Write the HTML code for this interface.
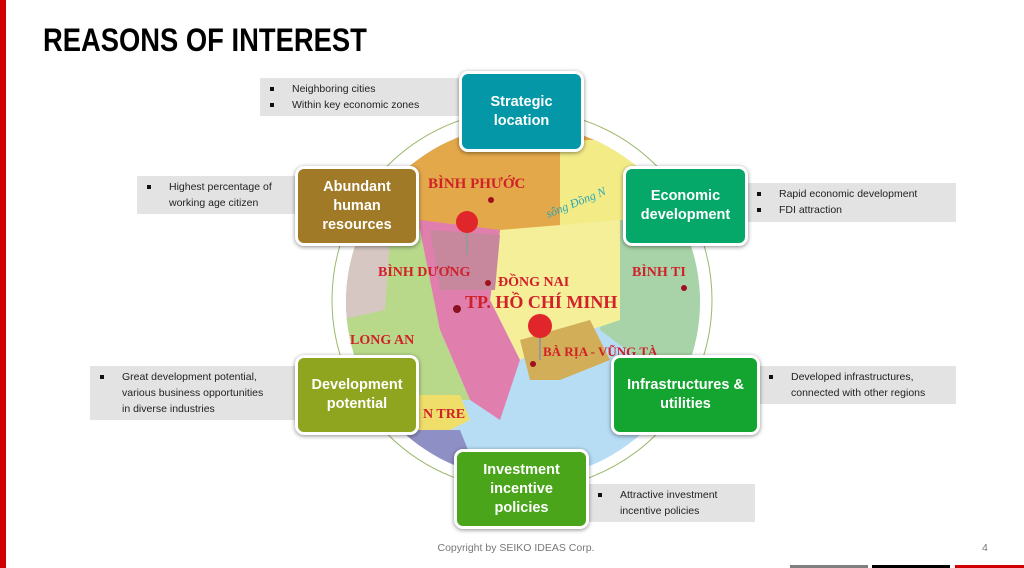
<!DOCTYPE html>
<html><head><meta charset="utf-8"><style>
body{margin:0;width:1024px;height:568px;position:relative;overflow:hidden;background:#fff;font-family:"Liberation Sans",sans-serif}
.a{position:absolute}
.title{left:43px;top:22px;font-size:32px;font-weight:bold;color:#000;transform:scaleX(0.855);transform-origin:left top;white-space:nowrap}
.box{position:absolute;border:3px solid #fff;border-radius:9px;box-shadow:0 1px 4px rgba(0,0,0,.45);color:#fff;font-weight:bold;font-size:14.5px;line-height:19px;display:flex;align-items:center;justify-content:center;text-align:center;box-sizing:border-box}
.call{position:absolute;background:#e3e3e3;font-size:10.5px;color:#222;line-height:16px;box-sizing:border-box;padding:3px 0}
.call div{position:relative;padding-left:32px}
.call div.b:before{content:"";position:absolute;left:10px;top:6px;width:4px;height:4px;background:#111}
</style></head><body>
<div class="a" style="left:0;top:0;width:6px;height:568px;background:#d00000"></div>
<div class="a title">REASONS OF INTEREST</div>

<svg class="a" style="left:0;top:0" width="1024" height="568">
<defs><clipPath id="c"><circle cx="523" cy="302" r="177"/></clipPath></defs>
<circle cx="522" cy="300" r="190" fill="none" stroke="#9ab86a" stroke-width="1"/>
<g clip-path="url(#c)">
<rect x="340" y="120" width="370" height="370" fill="#b7ddf5"/>
<polygon points="340,120 600,120 610,200 560,230 500,250 460,240 420,230 340,230" fill="#e3a84a"/>
<polygon points="560,140 710,140 710,260 620,250 560,230" fill="#f3ec86"/>
<polygon points="620,220 710,220 710,380 640,360 600,330" fill="#a8d3a8"/>
<polygon points="500,230 620,220 620,320 560,340 520,360 490,300" fill="#f6ef9a"/>
<polygon points="420,220 500,230 490,300 520,360 500,420 470,400 440,330 420,290" fill="#e07fae"/>
<polygon points="430,230 500,235 495,290 440,290" fill="#c7879c"/>
<polygon points="340,240 420,230 440,330 470,400 420,400 340,400" fill="#b8d98a"/>
<polygon points="340,240 390,240 385,310 340,320" fill="#d6c7c2"/>
<polygon points="520,340 590,320 610,360 560,380 530,380" fill="#d3ae58"/>
<polygon points="340,395 460,395 470,420 430,440 340,450" fill="#f0de6a"/>
<polygon points="340,430 460,430 480,480 340,490" fill="#8e8fc4"/>
</g>
<g font-family="Liberation Serif,serif" font-weight="bold" fill="#d0202a">
<text x="428" y="188" font-size="15">BÌNH PHƯỚC</text>
<text x="378" y="276" font-size="14">BÌNH DƯƠNG</text>
<text x="498" y="286" font-size="14">ĐỒNG NAI</text>
<text x="465" y="308" font-size="18">TP. HỒ CHÍ MINH</text>
<text x="632" y="276" font-size="14">BÌNH TI</text>
<text x="350" y="344" font-size="14">LONG AN</text>
<text x="543" y="356" font-size="13">BÀ RỊA - VŨNG TÀ</text>
<text x="423" y="418" font-size="14">N TRE</text>
</g>
<text x="548" y="218" font-size="12" font-style="italic" fill="#2aa5b5" font-family="Liberation Serif,serif" transform="rotate(-22 548 218)">sông Đồng N</text>
<circle cx="467" cy="222" r="11" fill="#e0262a"/><line x1="467" y1="233" x2="467" y2="255" stroke="#999" stroke-width="2"/>
<circle cx="540" cy="326" r="12" fill="#e0262a"/><line x1="540" y1="338" x2="540" y2="360" stroke="#999" stroke-width="2"/>
<circle cx="491" cy="200" r="3" fill="#a01020"/><circle cx="457" cy="309" r="4" fill="#8a1020"/>
<circle cx="488" cy="283" r="3" fill="#a01020"/><circle cx="684" cy="288" r="3" fill="#a01020"/><circle cx="533" cy="364" r="3" fill="#a01020"/>
</svg>

<div class="call" style="left:260px;top:78px;width:200px;height:38px"><div class="b">Neighboring cities</div><div class="b">Within key economic zones</div></div>
<div class="call" style="left:137px;top:176px;width:160px;height:38px"><div class="b">Highest percentage of</div><div>working age citizen</div></div>
<div class="call" style="left:747px;top:183px;width:209px;height:39px"><div class="b">Rapid economic development</div><div class="b">FDI attraction</div></div>
<div class="call" style="left:90px;top:366px;width:206px;height:54px"><div class="b">Great development potential,</div><div>various business opportunities</div><div>in diverse industries</div></div>
<div class="call" style="left:759px;top:366px;width:197px;height:38px"><div class="b">Developed infrastructures,</div><div>connected with other regions</div></div>
<div class="call" style="left:588px;top:484px;width:167px;height:38px"><div class="b">Attractive investment</div><div>incentive policies</div></div>

<div class="box" style="left:459px;top:71px;width:125px;height:81px;background:#0397a8">Strategic<br>location</div>
<div class="box" style="left:295px;top:166px;width:124px;height:80px;background:#a07a26">Abundant<br>human<br>resources</div>
<div class="box" style="left:623px;top:166px;width:125px;height:80px;background:#06a86a">Economic<br>development</div>
<div class="box" style="left:295px;top:355px;width:124px;height:80px;background:#8fa41f">Development<br>potential</div>
<div class="box" style="left:611px;top:355px;width:149px;height:80px;background:#14a530">Infrastructures &amp;<br>utilities</div>
<div class="box" style="left:454px;top:449px;width:135px;height:80px;background:#4aa51a">Investment<br>incentive<br>policies</div>

<div class="a" style="left:0;width:1024px;top:542px;text-align:center;font-size:10.5px;color:#777;padding-left:8px;box-sizing:border-box">Copyright by SEIKO IDEAS Corp.</div>
<div class="a" style="left:982px;top:542px;font-size:10.5px;color:#777">4</div>
<div class="a" style="left:790px;top:565px;width:78px;height:3px;background:#7f7f7f"></div>
<div class="a" style="left:872px;top:565px;width:78px;height:3px;background:#000"></div>
<div class="a" style="left:955px;top:565px;width:69px;height:3px;background:#d00000"></div>
</body></html>
